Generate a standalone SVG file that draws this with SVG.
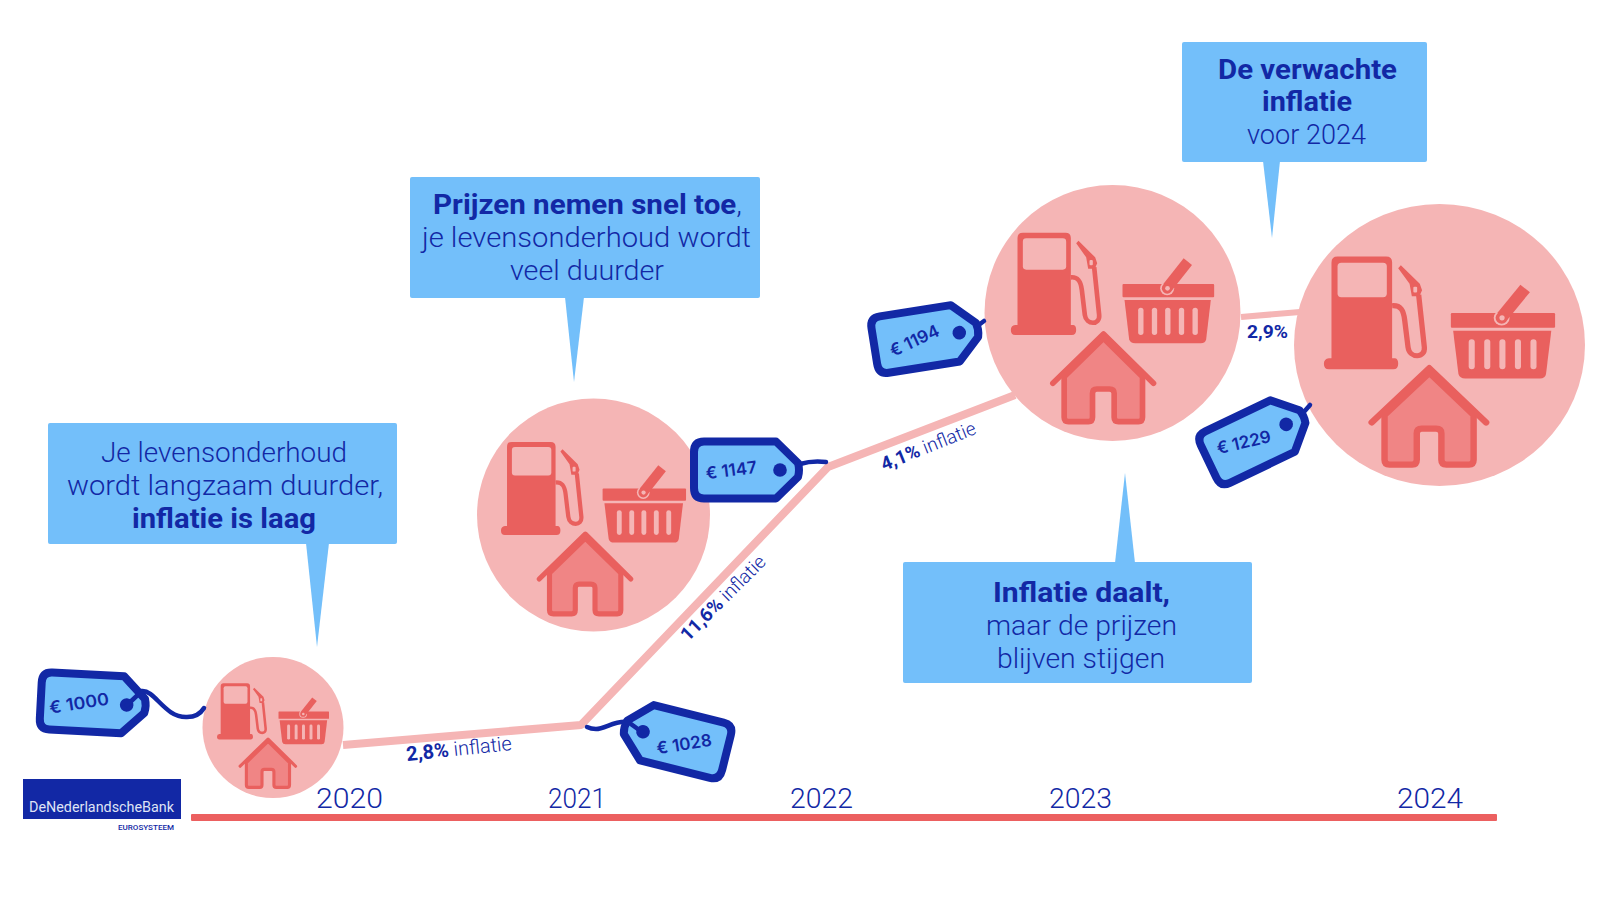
<svg xmlns="http://www.w3.org/2000/svg" xmlns:xlink="http://www.w3.org/1999/xlink" width="1600" height="900" viewBox="0 0 1600 900">
<style>
text{font-family:Roboto,"Open Sans",sans-serif;fill:#1228a5}
.l{font-weight:300;font-size:28px;text-anchor:middle}
.b{font-weight:700;font-size:28px;text-anchor:middle}
.w7{font-weight:700}
.w3{font-weight:300}
.yr{font-weight:300;font-size:28px;text-anchor:start}
.tt{font-family:Inter,"Open Sans",sans-serif;font-weight:600;font-size:17px;text-anchor:middle}
.pct{font-size:19px}
.box{fill:#73bffa}
.edge{fill:none;stroke:#f5b5b5;stroke-width:8;stroke-linejoin:round}
.str{fill:none;stroke:#1228a5;stroke-width:4.5;stroke-linecap:round}
.tag{fill:#73bffa;stroke:#1228a5;stroke-width:8;stroke-linejoin:round}
.hole{fill:#1228a5}
.disc{fill:#f5b5b5}
.ic{fill:#e9605e}
.lt{fill:#f5b5b5}
</style>
<defs>
<g id="icons" transform="translate(-457,-399)">
<path class="ic" d="M188 158H316Q332 158 332 174V435H340Q348 437 348 450Q348 465 335 465H165Q152 465 152 450Q152 437 165 435H172V174Q172 158 188 158Z"/>
<rect class="lt" x="188" y="175" width="130" height="94" rx="10"/>
<path d="M332 292C355 290 362 305 365 330L374 405C378 436 420 436 417 405L402 262" fill="none" stroke="#e9605e" stroke-width="14"/>
<path class="ic" d="M348 190L355 182L405 232L411 250L404 266L384 266L378 232Z"/>
<rect class="lt" x="388" y="240" width="10" height="16" rx="3"/>
<rect class="ic" x="487" y="312" width="275" height="40" rx="3"/>
<circle class="lt" cx="621" cy="325" r="21"/>
<path d="M622 322L683 245" stroke="#e9605e" stroke-width="32"/>
<circle class="ic" cx="621" cy="325" r="16"/>
<circle class="lt" cx="622" cy="325" r="7"/>
<path class="ic" d="M493 360H752L738 478Q736 490 722 490H525Q510 490 507 478Z"/>
<rect class="lt" x="534" y="383" width="16" height="82" rx="8"/>
<rect class="lt" x="575" y="383" width="16" height="82" rx="8"/>
<rect class="lt" x="615" y="383" width="16" height="82" rx="8"/>
<rect class="lt" x="656" y="383" width="16" height="82" rx="8"/>
<rect class="lt" x="697" y="383" width="16" height="82" rx="8"/>
<path d="M312 590V712Q312 725 325 725H385Q397 725 397 712V640Q397 627 410 627H448Q462 627 462 640V712Q462 725 475 725H535Q547 725 547 712V590L430 475Z" fill="#f08585" stroke="#e9605e" stroke-width="17" stroke-linejoin="round"/>
<path d="M278 610L430 462L580 610" fill="none" stroke="#e9605e" stroke-width="17" stroke-linecap="round" stroke-linejoin="round"/>
</g>
<g id="pricetag">
<path class="tag" d="M-42-28.5H30L52-7Q54 0 52 7L30 28.5H-42Q-52 28.5-52 18V-18Q-52-28.5-42-28.5Z"/>
<circle class="hole" cx="34" cy="0" r="6.8"/>
</g>
</defs>
<rect width="1600" height="900" fill="#fff"/>

<g id="axis">
<rect x="191" y="814" width="1306" height="7" rx="1" fill="#ec6060"/>
<text class="yr" x="316" y="808" textLength="67" lengthAdjust="spacingAndGlyphs">2020</text>
<text class="yr" x="548" y="808" textLength="58" lengthAdjust="spacingAndGlyphs">2021</text>
<text class="yr" x="790" y="808" textLength="63" lengthAdjust="spacingAndGlyphs">2022</text>
<text class="yr" x="1049" y="808" textLength="63" lengthAdjust="spacingAndGlyphs">2023</text>
<text class="yr" x="1397" y="808" textLength="66" lengthAdjust="spacingAndGlyphs">2024</text>
</g>

<g id="logo">
<rect x="23" y="779" width="158" height="40" fill="#1228a5"/>
<text x="29" y="812" font-size="14.5" style="fill:#dfe3f5" textLength="145" lengthAdjust="spacingAndGlyphs">DeNederlandscheBank</text>
<text x="118" y="830" font-size="7.5" font-weight="500" textLength="56" lengthAdjust="spacingAndGlyphs">EUROSYSTEEM</text>
</g>

<g id="node-2020">
<circle class="disc" cx="273" cy="727.5" r="70.5"/>
<use xlink:href="#icons" href="#icons" transform="translate(273,727.5) scale(.1836)"/>
</g>
<g id="node-2021">
<circle class="disc" cx="593.5" cy="515" r="116.5"/>
<use xlink:href="#icons" href="#icons" transform="translate(593.5,515) scale(.3034)"/>
</g>
<g id="node-2023">
<circle class="disc" cx="1112.5" cy="313" r="128"/>
<use xlink:href="#icons" href="#icons" transform="translate(1112.5,313) scale(.3333)"/>
</g>
<g id="node-2024">
<ellipse class="disc" cx="1439.5" cy="345" rx="145.5" ry="141"/>
<use xlink:href="#icons" href="#icons" transform="translate(1439.5,345) scale(.379,.367)"/>
</g>

<g id="callout-2020">
<rect class="box" x="48" y="423" width="349" height="121" rx="2"/>
<path class="box" d="M306 543H329L317 647Z"/>
<text class="l" x="224" y="462" textLength="246" lengthAdjust="spacingAndGlyphs">Je levensonderhoud</text>
<text class="l" x="225" y="495" textLength="316" lengthAdjust="spacingAndGlyphs">wordt langzaam duurder,</text>
<text class="b" x="224" y="527.5" textLength="184" lengthAdjust="spacingAndGlyphs">inflatie is laag</text>
</g>
<g id="callout-2021">
<rect class="box" x="410" y="177" width="350" height="121" rx="2"/>
<path class="box" d="M565 297H584L574 382Z"/>
<text class="l" x="587.5" y="214" textLength="309" lengthAdjust="spacingAndGlyphs"><tspan class="w7">Prijzen nemen snel toe</tspan>,</text>
<text class="l" x="586.5" y="247" textLength="329" lengthAdjust="spacingAndGlyphs">je levensonderhoud wordt</text>
<text class="l" x="587" y="280" textLength="154" lengthAdjust="spacingAndGlyphs">veel duurder</text>
</g>
<g id="callout-2024">
<rect class="box" x="1182" y="42" width="245" height="120" rx="2"/>
<path class="box" d="M1263 161H1280L1272 238Z"/>
<text class="b" x="1307.5" y="79" textLength="179" lengthAdjust="spacingAndGlyphs">De verwachte</text>
<text class="b" x="1307" y="111" textLength="90" lengthAdjust="spacingAndGlyphs">inflatie</text>
<text class="l" x="1306.5" y="144" textLength="119" lengthAdjust="spacingAndGlyphs">voor 2024</text>
</g>
<g id="callout-2023">
<rect class="box" x="903" y="562" width="349" height="121" rx="2"/>
<path class="box" d="M1115 563H1135L1125 473Z"/>
<text class="b" x="1081.5" y="602" textLength="177" lengthAdjust="spacingAndGlyphs">Inflatie daalt,</text>
<text class="l" x="1081.5" y="635" textLength="191" lengthAdjust="spacingAndGlyphs">maar de prijzen</text>
<text class="l" x="1081" y="668" textLength="168" lengthAdjust="spacingAndGlyphs">blijven stijgen</text>
</g>

<g id="tag-1000">
<use xlink:href="#pricetag" href="#pricetag" transform="translate(92.7,703.2) rotate(3)"/>
<text class="tt" transform="translate(80,709) rotate(-9)" textLength="60" lengthAdjust="spacingAndGlyphs">€ 1000</text>
</g>
<g id="tag-1028">
<use xlink:href="#pricetag" href="#pricetag" transform="translate(676,740) rotate(14) scale(-1,1)"/>
<text class="tt" transform="translate(685,750) rotate(-9)">€ 1028</text>
</g>
<g id="tag-1147">
<use xlink:href="#pricetag" href="#pricetag" transform="translate(746,470)"/>
<text class="tt" transform="translate(732,476) rotate(-7)">€ 1147</text>
</g>
<g id="tag-1194">
<use xlink:href="#pricetag" href="#pricetag" transform="translate(925.7,338) rotate(-9)"/>
<text class="tt" transform="translate(917,346) rotate(-25)">€ 1194</text>
</g>
<g id="tag-1229">
<use xlink:href="#pricetag" href="#pricetag" transform="translate(1255.5,439) rotate(-25.6)"/>
<text class="tt" transform="translate(1245,448) rotate(-13)">€ 1229</text>
</g>

<g id="connectors">
<path class="edge" d="M343 745L581 725L828 467L1015 395"/>
<path class="edge" style="stroke-width:6" d="M1241 317L1300 312"/>
<path class="str" d="M127 705L142 691C155 690 165 718 187 717C196 717 201 713 204 708"/>
<path class="str" d="M642 732L628 722C615 720 605 729 596 729C592 729 589 728 587 727"/>
<path class="str" d="M800 464C810 461 818 461 826 462"/>
<path class="str" d="M976 327L984 321"/>
<path class="str" d="M1303 413L1310 405"/>
<text class="pct" font-size="20" style="font-size:20px" transform="translate(407,761) rotate(-6)"><tspan class="w7">2,8%</tspan><tspan class="w3"> inflatie</tspan></text>
<text class="pct" transform="translate(688,642) rotate(-45)"><tspan class="w7">11,6%</tspan><tspan class="w3"> inflatie</tspan></text>
<text class="pct" transform="translate(884,471) rotate(-22)"><tspan class="w7">4,1%</tspan><tspan class="w3"> inflatie</tspan></text>
<text class="pct w7" x="1247" y="338" textLength="41" lengthAdjust="spacingAndGlyphs">2,9%</text>
</g>
</svg>
